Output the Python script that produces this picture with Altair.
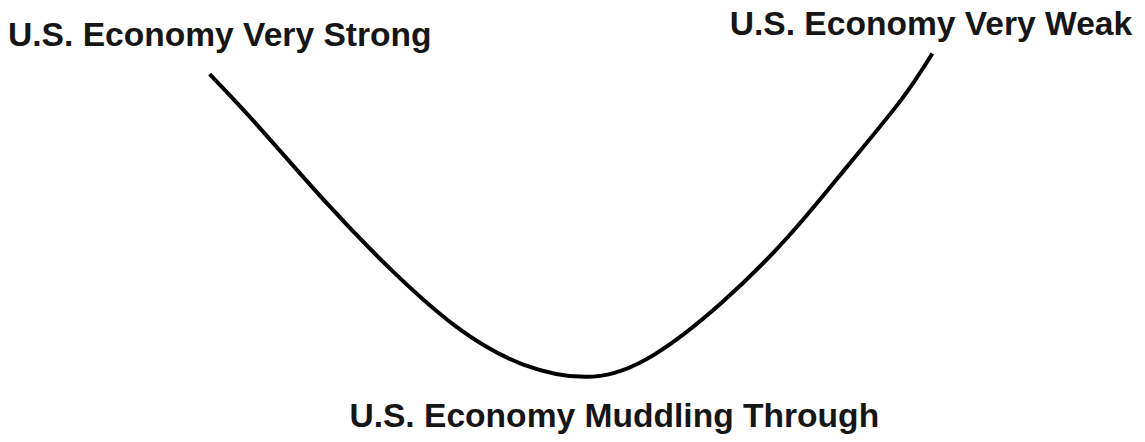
import altair as alt
import pandas as pd

curve_x = [208, 257, 323, 390, 457, 523, 592, 653, 720, 787, 847, 900, 932]
curve_y = [75, 128, 203, 273, 332, 369, 381, 359, 307, 240, 168, 102, 54]

label_text = ["U.S. Economy Very Strong", "U.S. Economy Very Weak", "U.S. Economy Muddling Through"]
label_x = [6, 729, 348]
label_y = [46, 35, 432]

curve = pd.DataFrame({"x": curve_x, "y": curve_y})
labels = pd.DataFrame({"text": label_text, "x": label_x, "y": label_y})

xs = alt.Scale(domain=[8, 1137], nice=False, zero=False)
ys = alt.Scale(domain=[434, 8], nice=False, zero=False)

line = alt.Chart(curve).mark_line(
    color="#000000", strokeWidth=4, interpolate="natural", strokeCap="butt"
).encode(
    x=alt.X("x:Q", scale=xs, axis=None),
    y=alt.Y("y:Q", scale=ys, axis=None),
)

text = alt.Chart(labels).mark_text(
    font="Liberation Sans", fontWeight="bold", fontSize=33.6,
    align="left", baseline="alphabetic", color="#161616"
).encode(
    x=alt.X("x:Q", scale=xs, axis=None),
    y=alt.Y("y:Q", scale=ys, axis=None),
    text="text:N",
)

chart = (line + text).properties(
    width=1129, height=426,
    autosize=alt.AutoSizeParams(type="fit", contains="padding"),
    padding=0,
    background="white",
).configure_view(stroke=None)

chart.save("out.html", embed_options={"renderer": "svg", "actions": False})
